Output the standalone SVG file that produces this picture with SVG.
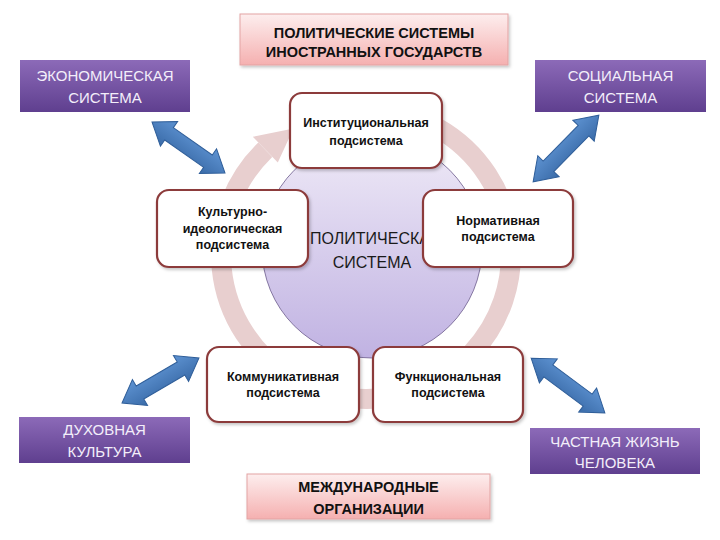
<svg xmlns="http://www.w3.org/2000/svg" width="720" height="540" viewBox="0 0 720 540">
  <defs>
    <linearGradient id="gPink" x1="0" y1="0" x2="0" y2="1">
      <stop offset="0" stop-color="#fdeeee"/>
      <stop offset="1" stop-color="#f5b0b0"/>
    </linearGradient>
    <linearGradient id="gPurple" x1="0" y1="0" x2="0" y2="1">
      <stop offset="0" stop-color="#8c6ab8"/>
      <stop offset="1" stop-color="#5f3f8f"/>
    </linearGradient>
    <linearGradient id="gCircle" x1="0" y1="0" x2="0" y2="1">
      <stop offset="0" stop-color="#efeaf7"/>
      <stop offset="1" stop-color="#c0b2e2"/>
    </linearGradient>
    <linearGradient id="gArrow" gradientUnits="userSpaceOnUse" x1="0" y1="-15" x2="0" y2="15">
      <stop offset="0" stop-color="#5e93d2"/>
      <stop offset="1" stop-color="#3a6ba8"/>
    </linearGradient>
    <filter id="shadow" x="-10%" y="-10%" width="125%" height="130%">
      <feDropShadow dx="1.5" dy="2" stdDeviation="1.5" flood-color="#000" flood-opacity="0.22"/>
    </filter>
    <path id="dblArrow" d="M-45,0 L-24,-15 L-24,-7.5 L24,-7.5 L24,-15 L45,0 L24,15 L24,7.5 L-24,7.5 L-24,15 Z"/>
    <style>
      .pink { fill: url(#gPink); stroke: #e3a3a3; stroke-width: 1; }
      .purple { fill: url(#gPurple); stroke: none; }
      .sub { fill: #ffffff; stroke: #8c3b3b; stroke-width: 2.2; }
      .arrow { fill: url(#gArrow); stroke: #2f5e99; stroke-width: 1; }
      .tPink { font-family: "Liberation Sans", Arial, sans-serif; font-size: 14.5px; font-weight: bold; fill: #111; text-anchor: middle; }
      .tPurple { font-family: "Liberation Sans", Arial, sans-serif; font-size: 15px; fill: #f3eefa; text-anchor: middle; }
      .tSub { font-family: "Liberation Sans", Arial, sans-serif; font-size: 12.5px; font-weight: bold; fill: #111; text-anchor: middle; }
      .tCenter { font-family: "Liberation Sans", Arial, sans-serif; font-size: 16px; fill: #1a1a1a; }
    </style>
  </defs>

  <rect width="720" height="540" fill="#ffffff"/>

  <!-- cycle ring with arrowhead -->
  <g id="cycle">
    <path d="M378.6,109.6 A145,145 0 1 1 265.3,149.7" fill="none" stroke="#e8cfcf" stroke-width="20"/>
    <polygon points="277.8,162.6 252.8,136.8 293.5,128.4" fill="#e8cfcf"/>
  </g>

  <!-- central circle -->
  <g id="political-system">
    <circle cx="372" cy="248" r="110" fill="url(#gCircle)" stroke="#6b5b8c" stroke-width="0.8"/>
    <text class="tCenter" x="310" y="244">ПОЛИТИЧЕСКА</text>
    <text class="tCenter" x="372" y="268" text-anchor="middle">СИСТЕМА</text>
  </g>

  <!-- connectors -->
  <g id="connectors">
    <use href="#dblArrow" class="arrow" transform="translate(188.5,147.5) rotate(35) scale(0.99,1)"/>
    <use href="#dblArrow" class="arrow" transform="translate(566,148.5) rotate(-45.4) scale(1.04,1)"/>
    <use href="#dblArrow" class="arrow" transform="translate(160.5,380.5) rotate(-30.3) scale(0.99,1)"/>
    <use href="#dblArrow" class="arrow" transform="translate(568,385.5) rotate(36.6) scale(1.02,1)"/>
  </g>

  <!-- outer pink boxes -->
  <g id="foreign-states">
    <rect class="pink" x="240" y="14" width="268" height="51" filter="url(#shadow)"/>
    <text class="tPink" x="374" y="38">ПОЛИТИЧЕСКИЕ СИСТЕМЫ</text>
    <text class="tPink" x="374" y="57">ИНОСТРАННЫХ ГОСУДАРСТВ</text>
  </g>
  <g id="intl-orgs">
    <rect class="pink" x="247" y="474" width="243" height="45" filter="url(#shadow)"/>
    <text class="tPink" x="368.5" y="492">МЕЖДУНАРОДНЫЕ</text>
    <text class="tPink" x="368.5" y="514">ОРГАНИЗАЦИИ</text>
  </g>

  <!-- purple boxes -->
  <g id="economic">
    <rect class="purple" x="20" y="60" width="170" height="52"/>
    <text class="tPurple" x="105" y="81">ЭКОНОМИЧЕСКАЯ</text>
    <text class="tPurple" x="105" y="103">СИСТЕМА</text>
  </g>
  <g id="social">
    <rect class="purple" x="535" y="60" width="171" height="52"/>
    <text class="tPurple" x="620.5" y="81">СОЦИАЛЬНАЯ</text>
    <text class="tPurple" x="620.5" y="103">СИСТЕМА</text>
  </g>
  <g id="spiritual">
    <rect class="purple" x="19" y="417" width="171" height="46"/>
    <text class="tPurple" x="104.5" y="435">ДУХОВНАЯ</text>
    <text class="tPurple" x="104.5" y="457">КУЛЬТУРА</text>
  </g>
  <g id="private-life">
    <rect class="purple" x="530" y="428" width="170" height="46"/>
    <text class="tPurple" x="615" y="447">ЧАСТНАЯ ЖИЗНЬ</text>
    <text class="tPurple" x="615" y="468">ЧЕЛОВЕКА</text>
  </g>

  <!-- subsystem boxes -->
  <g id="institutional">
    <rect class="sub" x="290" y="93" width="152" height="75" rx="12" filter="url(#shadow)"/>
    <text class="tSub" x="366" y="127">Институциональная</text>
    <text class="tSub" x="366" y="145">подсистема</text>
  </g>
  <g id="cultural">
    <rect class="sub" x="157" y="190" width="151" height="77" rx="12" filter="url(#shadow)"/>
    <text class="tSub" x="232.5" y="216">Культурно-</text>
    <text class="tSub" x="232.5" y="233">идеологическая</text>
    <text class="tSub" x="232.5" y="249">подсистема</text>
  </g>
  <g id="normative">
    <rect class="sub" x="423" y="190" width="150" height="77" rx="12" filter="url(#shadow)"/>
    <text class="tSub" x="498" y="225">Нормативная</text>
    <text class="tSub" x="498" y="241">подсистема</text>
  </g>
  <g id="communicative">
    <rect class="sub" x="207" y="347" width="152" height="75" rx="12" filter="url(#shadow)"/>
    <text class="tSub" x="283" y="381">Коммуникативная</text>
    <text class="tSub" x="283" y="397">подсистема</text>
  </g>
  <g id="functional">
    <rect class="sub" x="373" y="347" width="150" height="75" rx="12" filter="url(#shadow)"/>
    <text class="tSub" x="448" y="381">Функциональная</text>
    <text class="tSub" x="448" y="397">подсистема</text>
  </g>
</svg>
